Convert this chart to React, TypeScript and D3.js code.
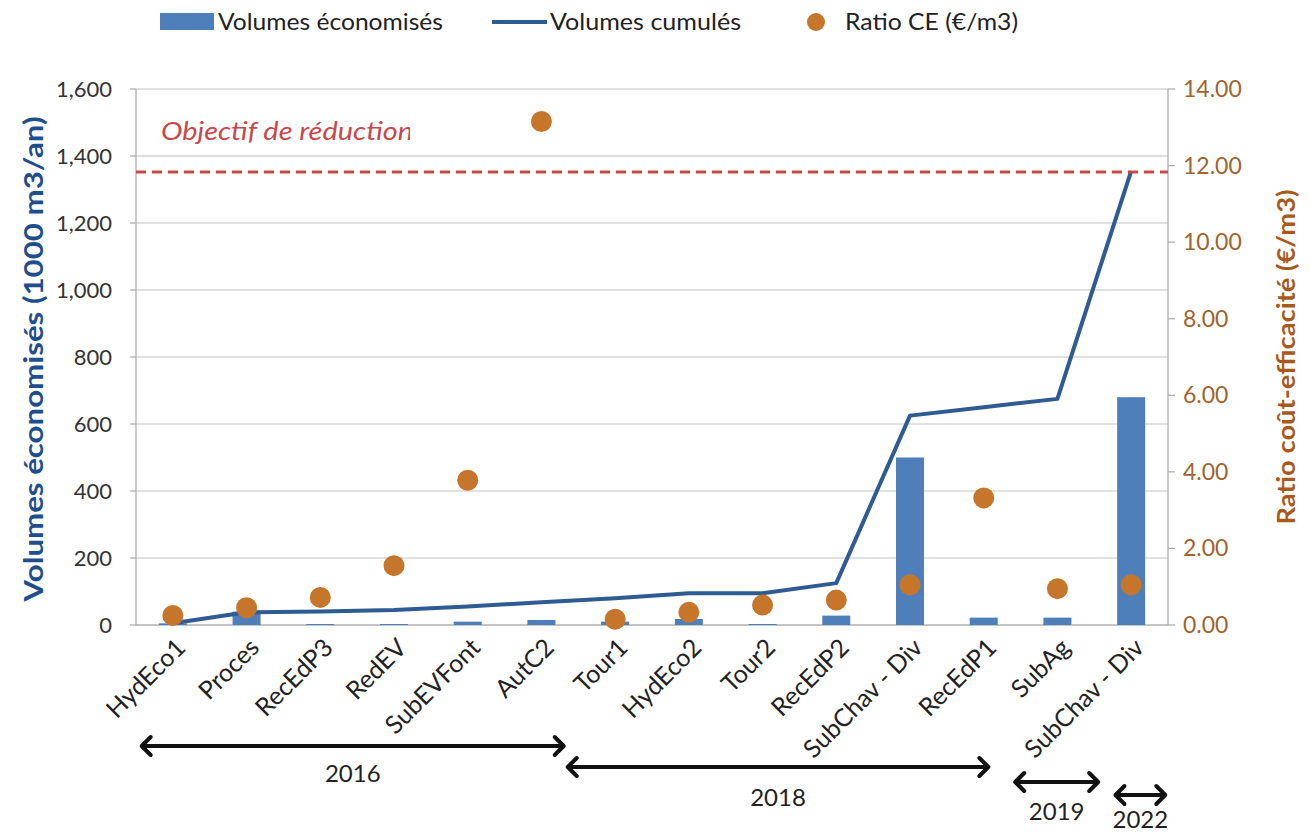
import React from 'react';
import * as d3 from 'd3';

const categories = ['HydEco1', 'Proces', 'RecEdP3', 'RedEV', 'SubEVFont', 'AutC2', 'Tour1', 'HydEco2', 'Tour2', 'RecEdP2', 'SubChav - Div', 'RecEdP1', 'SubAg', 'SubChav - Div'];
const volumesEconomises = [5, 40, 3, 3, 10, 15, 10, 18, 3, 28, 500, 22, 22, 680];
const volumesCumules = [5, 38, 40, 45, 55, 68, 80, 95, 95, 125, 625, 650, 675, 1355];
const ratioCE = [0.25, 0.45, 0.72, 1.55, 3.78, 13.15, 0.15, 0.33, 0.52, 0.65, 1.05, 3.32, 0.95, 1.05];
const objectif = 1352;
const leftTicks = [0, 200, 400, 600, 800, 1000, 1200, 1400, 1600];
const rightTicks = [0, 2, 4, 6, 8, 10, 12, 14];
const periodLabels = ['2016', '2018', '2019', '2022'];
const periodStart = [0.05, 5.83, 11.9, 13.26];
const periodEnd = [5.83, 11.59, 13.08, 13.99];

const W = 1310, H = 832;
const L = 136, R = 1168, T = 89, B = 625;
const FONT = 'Lato, "Open Sans", sans-serif';
const BAR = '#4F7FBA';
const LINE = '#2E5B92';
const DOT = '#C5762B';
const RED = '#C9474A';

export default function App() {
  const idx = d3.range(categories.length);
  const x = d3.scaleBand<number>().domain(idx).range([L, R]).paddingInner(0.62).paddingOuter(0.31);
  const xi = d3.scaleLinear().domain([0, categories.length]).range([L, R]);
  const yL = d3.scaleLinear().domain([0, 1600]).range([B, T]);
  const yR = d3.scaleLinear().domain([0, 14]).range([B, T]);
  const cx = (i: number) => (x(i) as number) + x.bandwidth() / 2;
  const linePath = d3.line<number>().x((_, i) => cx(i)).y(d => yL(d))(volumesCumules) || '';
  const fmtL = d3.format(',');
  const fmtR = d3.format('.2f');

  const arrowY = [746, 767, 782, 795];
  const labelY = [782, 806, 820, 828];

  return (
    <svg width={W} height={H} style={{ position: 'absolute', left: 0, top: 0, background: '#fff' }} fontFamily={FONT}>
      <defs>
        <clipPath id="objClip"><rect x={140} y={100} width={270} height={60} /></clipPath>
      </defs>
      {leftTicks.map(t => (
        <line key={'g' + t} x1={L} x2={R} y1={yL(t)} y2={yL(t)} stroke="#C4C4C4" strokeWidth={1.2} />
      ))}
      <line x1={L} x2={L} y1={T} y2={B} stroke="#A8A8A8" strokeWidth={1.2} />
      <line x1={R} x2={R} y1={T} y2={B} stroke="#A8A8A8" strokeWidth={1.2} />
      <line x1={L} x2={R} y1={B} y2={B} stroke="#A8A8A8" strokeWidth={1.2} />
      {leftTicks.map(t => (
        <g key={'lt' + t}>
          <line x1={L - 6} x2={L} y1={yL(t)} y2={yL(t)} stroke="#A8A8A8" strokeWidth={1.2} />
          <text x={112} y={yL(t)} dy="0.35em" textAnchor="end" fontSize={22} fill="#333">{fmtL(t)}</text>
        </g>
      ))}
      {rightTicks.map(t => (
        <g key={'rt' + t}>
          <line x1={R} x2={R + 7} y1={yR(t)} y2={yR(t)} stroke="#A8A8A8" strokeWidth={1.2} />
          <text x={1183} y={yR(t)} dy="0.35em" textAnchor="start" fontSize={23} fill="#A0642E">{fmtR(t)}</text>
        </g>
      ))}
      {volumesEconomises.map((v, i) => (
        <rect key={'b' + i} x={x(i)} y={yL(v)} width={x.bandwidth()} height={B - yL(v)} fill={BAR} />
      ))}
      <path d={linePath} fill="none" stroke={LINE} strokeWidth={4} strokeLinejoin="round" />
      {ratioCE.map((v, i) => (
        <circle key={'d' + i} cx={cx(i)} cy={yR(v)} r={10.5} fill={DOT} />
      ))}
      <line x1={L} x2={R} y1={yL(objectif)} y2={yL(objectif)} stroke={RED} strokeWidth={3} strokeDasharray="10,6" />
      <text x={161} y={140} fontSize={25} fontStyle="italic" fill={RED} clipPath="url(#objClip)" textLength={252} lengthAdjust="spacingAndGlyphs">Objectif de réduction</text>
      {categories.map((c, i) => (
        <text key={'x' + i} transform={`translate(${cx(i) + 8},${643}) rotate(-45)`} dy="0.35em" textAnchor="end" fontSize={25} fill="#222">{c}</text>
      ))}
      <text transform={`translate(34,${(T + B) / 2 + 2}) rotate(-90)`} textAnchor="middle" dy="0.35em" fontSize={27} fontWeight="bold" fill="#1F4E8C" textLength={485} lengthAdjust="spacingAndGlyphs">Volumes économisés (1000  m3/an)</text>
      <text transform={`translate(1287,${(T + B) / 2}) rotate(-90)`} textAnchor="middle" dy="0.35em" fontSize={24} fontWeight="bold" fill="#A85A1C" textLength={335} lengthAdjust="spacingAndGlyphs">Ratio coût-efficacité (€/m3)</text>
      <rect x={160} y={13} width={54} height={17} fill={BAR} />
      <text x={218} y={22} dy="0.35em" fontSize={23} fill="#222" textLength={225} lengthAdjust="spacingAndGlyphs">Volumes économisés</text>
      <line x1={492} x2={547} y1={22} y2={22} stroke={LINE} strokeWidth={4} />
      <text x={550} y={22} dy="0.35em" fontSize={23} fill="#222" textLength={191} lengthAdjust="spacingAndGlyphs">Volumes cumulés</text>
      <circle cx={816} cy={22} r={9} fill={DOT} />
      <text x={845} y={22} dy="0.35em" fontSize={23} fill="#222" textLength={173} lengthAdjust="spacingAndGlyphs">Ratio CE (€/m3)</text>
      {periodLabels.map((p, k) => {
        const x1 = xi(periodStart[k]);
        const x2 = xi(periodEnd[k]);
        const y = arrowY[k];
        const h = 9;
        return (
          <g key={'p' + p}>
            <line x1={x1 + 2} x2={x2 - 2} y1={y} y2={y} stroke="#111" strokeWidth={4} />
            <path d={`M${x1 + h + 2},${y - h} L${x1 + 2},${y} L${x1 + h + 2},${y + h}`} fill="none" stroke="#111" strokeWidth={4} strokeLinecap="round" strokeLinejoin="round" />
            <path d={`M${x2 - h - 2},${y - h} L${x2 - 2},${y} L${x2 - h - 2},${y + h}`} fill="none" stroke="#111" strokeWidth={4} strokeLinecap="round" strokeLinejoin="round" />
            <text x={(x1 + x2) / 2} y={labelY[k]} textAnchor="middle" fontSize={24} fill="#222">{p}</text>
          </g>
        );
      })}
    </svg>
  );
}
